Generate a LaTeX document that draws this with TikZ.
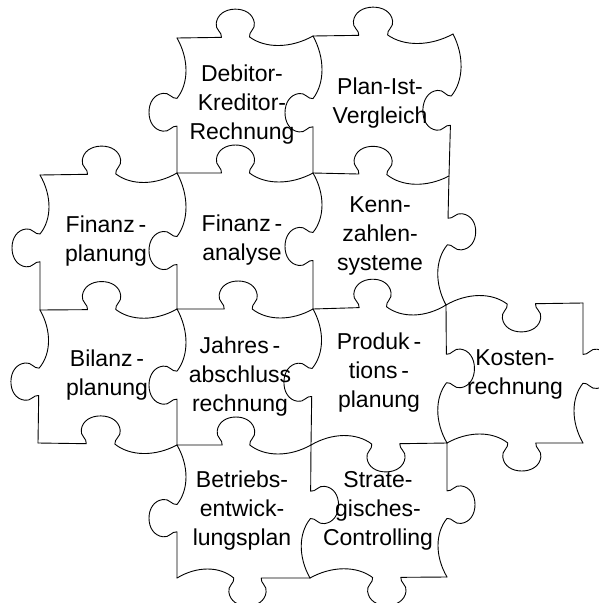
\documentclass[tikz,border=0pt]{standalone}
\usepackage{fontspec}
\setmainfont{Liberation Sans}
\usetikzlibrary{calc}

\tikzset{
  pzline/.style={draw=black, line width=0.9pt, line cap=round, line join=round},
  pztext/.style={align=center, inner sep=0pt, font=\fontsize{23}{29}\selectfont,
    execute at begin node=\strut, execute at end node=\strut},
}

% One jigsaw edge from #1 to #2.
% #3: side of the knob (1 = left of the direction of travel, -1 = right)
% #4: position of the knob centre along the edge (fraction)
% #5, #6: bow of the part before / after the knob, away from the knob (pt)
\newcommand\pzedge[6]{%
  \pgfmathsetmacro\pzNa{#4-0.103}%
  \pgfmathsetmacro\pzNb{#4+0.103}%
  \pgfmathsetmacro\pzAa{0.35*\pzNa}%
  \pgfmathsetmacro\pzAb{0.75*\pzNa}%
  \pgfmathsetmacro\pzBa{\pzNb+0.25*(1-\pzNb)}%
  \pgfmathsetmacro\pzBb{\pzNb+0.65*(1-\pzNb)}%
  \pgfmathsetmacro\pzbA{-(#5)*(#3)}%
  \pgfmathsetmacro\pzbB{-(#6)*(#3)}%
  \pgfmathsetmacro\pzkA{#4-0.096}\pgfmathsetmacro\pzkB{#4-0.150}\pgfmathsetmacro\pzkC{#4-0.140}%
  \pgfmathsetmacro\pzkD{#4-0.132}\pgfmathsetmacro\pzkE{#4-0.072}%
  \pgfmathsetmacro\pzkF{#4+0.072}\pgfmathsetmacro\pzkG{#4+0.132}\pgfmathsetmacro\pzkH{#4+0.140}%
  \pgfmathsetmacro\pzkI{#4+0.150}\pgfmathsetmacro\pzkJ{#4+0.096}%
  \pgfmathsetmacro\pzvA{5*(#3)}\pgfmathsetmacro\pzvB{8*(#3)}\pgfmathsetmacro\pzvC{14*(#3)}%
  \pgfmathsetmacro\pzvD{23*(#3)}\pgfmathsetmacro\pzvE{28*(#3)}%
  \draw[pzline] (#1)
    .. controls ($(#1)!\pzAa!(#2)!\pzbA pt!90:(#2)$) and ($(#1)!\pzAb!(#2)!\pzbA pt!90:(#2)$) .. ($(#1)!\pzNa!(#2)$)
    .. controls ($(#1)!\pzkA!(#2)!\pzvA pt!90:(#2)$) and ($(#1)!\pzkB!(#2)!\pzvB pt!90:(#2)$) .. ($(#1)!\pzkC!(#2)!\pzvC pt!90:(#2)$)
    .. controls ($(#1)!\pzkD!(#2)!\pzvD pt!90:(#2)$) and ($(#1)!\pzkE!(#2)!\pzvE pt!90:(#2)$) .. ($(#1)!#4!(#2)!\pzvE pt!90:(#2)$)
    .. controls ($(#1)!\pzkF!(#2)!\pzvE pt!90:(#2)$) and ($(#1)!\pzkG!(#2)!\pzvD pt!90:(#2)$) .. ($(#1)!\pzkH!(#2)!\pzvC pt!90:(#2)$)
    .. controls ($(#1)!\pzkI!(#2)!\pzvB pt!90:(#2)$) and ($(#1)!\pzkJ!(#2)!\pzvA pt!90:(#2)$) .. ($(#1)!\pzNb!(#2)$)
    .. controls ($(#1)!\pzBa!(#2)!\pzbB pt!90:(#2)$) and ($(#1)!\pzBb!(#2)!\pzbB pt!90:(#2)$) .. (#2);
}

\begin{document}
\begin{tikzpicture}[x=1pt, y=-1pt]
  \useasboundingbox (0,0) rectangle (599,603);
  \clip (0,0) rectangle (599,603);

  % corners of the pieces
  \coordinate (p10) at (177,38);
  \coordinate (p20) at (313,36);
  \coordinate (p30) at (453,34);
  \coordinate (p01) at (40,175);
  \coordinate (p11) at (177,173);
  \coordinate (p21) at (313,173);
  \coordinate (p31) at (449,176);
  \coordinate (p02) at (40,310);
  \coordinate (p12) at (177,309);
  \coordinate (p22) at (313,309);
  \coordinate (p32) at (446,305);
  \coordinate (p42) at (583,303);
  \coordinate (p03) at (38,443);
  \coordinate (p13) at (177,445);
  \coordinate (p23) at (311,445);
  \coordinate (p33) at (447,443);
  \coordinate (p43) at (583,443);
  \coordinate (p14) at (177,578);
  \coordinate (p24) at (310,578);
  \coordinate (p34) at (447,577);

  % horizontal edges
  \pzedge{p10}{p20}{1}{0.43}{0}{12}
  \pzedge{p20}{p30}{1}{0.43}{0}{12}
  \pzedge{p01}{p11}{1}{0.45}{0}{12}
  \pzedge{p11}{p21}{1}{0.43}{0}{12}
  \pzedge{p21}{p31}{1}{0.44}{0}{12}
  \pzedge{p02}{p12}{1}{0.45}{0}{12}
  \pzedge{p12}{p22}{1}{0.45}{0}{12}
  \pzedge{p22}{p32}{1}{0.45}{0}{12}
  \pzedge{p32}{p42}{-1}{0.55}{12}{0}
  \pzedge{p03}{p13}{1}{0.45}{0}{12}
  \pzedge{p13}{p23}{1}{0.44}{0}{12}
  \pzedge{p23}{p33}{-1}{0.55}{12}{0}
  \pzedge{p33}{p43}{-1}{0.55}{12}{0}
  \pzedge{p14}{p24}{-1}{0.53}{12}{0}
  \pzedge{p24}{p34}{-1}{0.56}{12}{0}

  % vertical edges
  \pzedge{p01}{p02}{-1}{0.54}{12}{0}
  \pzedge{p02}{p03}{-1}{0.54}{12}{0}
  \pzedge{p10}{p11}{-1}{0.55}{12}{0}
  \pzedge{p11}{p12}{-1}{0.57}{12}{0}
  \pzedge{p12}{p13}{-1}{0.56}{12}{0}
  \pzedge{p13}{p14}{-1}{0.55}{12}{0}
  \pzedge{p20}{p21}{-1}{0.56}{12}{0}
  \pzedge{p21}{p22}{-1}{0.54}{12}{0}
  \pzedge{p22}{p23}{-1}{0.54}{12}{0}
  \pzedge{p23}{p24}{1}{0.45}{0}{12}
  \pzedge{p30}{p31}{-1}{0.54}{12}{0}
  \pzedge{p31}{p32}{1}{0.43}{0}{12}
  \pzedge{p32}{p33}{1}{0.46}{0}{12}
  \pzedge{p33}{p34}{1}{0.46}{0}{12}
  \pzedge{p42}{p43}{1}{0.47}{0}{12}

  % labels
  \node[pztext] (debitor) at (242,106.7) {Debitor-\\Kreditor-\\Rechnung};
  \node[pztext] (planist) at (380,105.2) {Plan-Ist-\\Vergleich};
  \node[pztext] (finplan) at (106,243.2) {Finanz\,-\\planung};
  \node[pztext] (finana)  at (242,241.7) {Finanz\,-\\analyse};
  \node[pztext] (kennz)   at (380,237.7) {Kenn-\\zahlen-\\systeme};
  \node[pztext] (bilanz)  at (107,376.7) {Bilanz\,-\\planung};
  \node[pztext] (jahres)  at (240,378.2) {Jahres\,-\\abschluss\\rechnung};
  \node[pztext] (produkt) at (379,374.7) {Produk\,-\\tions\,-\\planung};
  \node[pztext] (kosten)  at (515,376.7) {Kosten-\\rechnung};
  \node[pztext] (betrieb) at (242,512.7) {Betriebs-\\entwick-\\lungsplan};
  \node[pztext] (strat)   at (378,512.7) {Strate-\\gisches-\\Controlling};
\end{tikzpicture}
\end{document}
